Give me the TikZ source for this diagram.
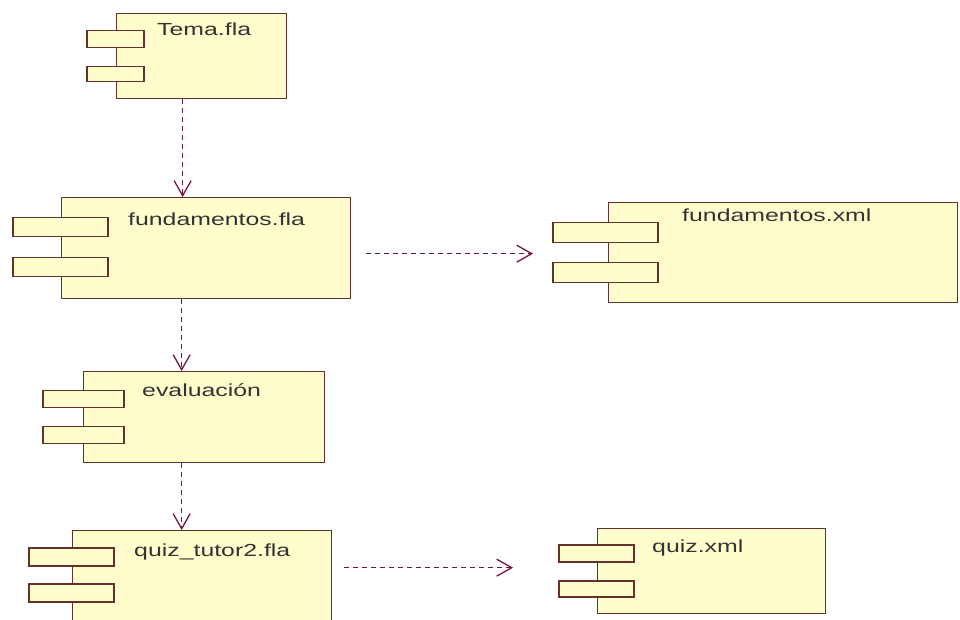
\documentclass[tikz,border=0pt]{standalone}
\usepackage{fontspec}
\newfontfamily\compfont[FakeStretch=1.42]{Liberation Sans}
\usetikzlibrary{arrows.meta}
\definecolor{compfill}{RGB}{255,253,204}
\definecolor{compline}{RGB}{104,48,44}
\definecolor{deparrow}{RGB}{118,20,66}

\begin{document}
\begin{tikzpicture}[x=1pt, y=-1pt,
  compbox/.style = {draw=compline, fill=compfill, line width=1.3pt, anchor=north west, inner sep=0pt},
  comptab/.style = {draw=compline, fill=compfill, line width=1.3pt, inner sep=0pt},
  compname/.style = {anchor=base west, inner sep=0pt, text=black!80, font=\compfont\fontsize{17.5}{21}\selectfont},
  dep/.style = {->, dash pattern=on 5pt off 4pt, draw=deparrow, line width=1.3pt},
  >={Straight Barb[length=15pt,width=17pt]}]
\useasboundingbox (0,0) rectangle (960,619);
\fill[white] (0,0) rectangle (960,619);
\clip (0,0) rectangle (960,619);

% components
\node[compbox, minimum width=170pt, minimum height=85pt] (tema) at (116,13) {};
\node[comptab, minimum width=57pt, minimum height=17pt] (tema1) at (115.5,39) {};
\node[comptab, minimum width=57pt, minimum height=15pt] (tema2) at (115.5,74) {};
\node[compname] (temaTxt) at (157,35) {Tema.fla};

\node[compbox, minimum width=289pt, minimum height=101pt] (fundfla) at (61,197) {};
\node[comptab, minimum width=95pt, minimum height=19pt] (fundfla1) at (60.5,227) {};
\node[comptab, minimum width=95pt, minimum height=19pt] (fundfla2) at (60.5,267) {};
\node[compname] (fundflaTxt) at (128,225) {fundamentos.fla};

\node[compbox, minimum width=349pt, minimum height=100pt] (fundxml) at (608,202) {};
\node[comptab, minimum width=105pt, minimum height=20pt] (fundxml1) at (605.5,232.5) {};
\node[comptab, minimum width=105pt, minimum height=20pt] (fundxml2) at (605.5,272.5) {};
\node[compname] (fundxmlTxt) at (682,221) {fundamentos.xml};

\node[compbox, minimum width=241pt, minimum height=91pt] (eval) at (83,371) {};
\node[comptab, minimum width=81pt, minimum height=17pt] (eval1) at (83.5,399) {};
\node[comptab, minimum width=81pt, minimum height=17pt] (eval2) at (83.5,435) {};
\node[compname] (evalTxt) at (142,396) {evaluación};

\node[compbox, minimum width=259pt, minimum height=95pt] (quiz) at (72,530) {};
\node[comptab, minimum width=85pt, minimum height=18pt] (quiz1) at (71.5,557) {};
\node[comptab, minimum width=85pt, minimum height=18pt] (quiz2) at (71.5,593) {};
\node[compname] (quizTxt) at (134,556) {quiz\_tutor2.fla};

\node[compbox, minimum width=228pt, minimum height=85pt] (quizxml) at (597,528) {};
\node[comptab, minimum width=75pt, minimum height=17pt] (quizxml1) at (596.5,553.5) {};
\node[comptab, minimum width=75pt, minimum height=16pt] (quizxml2) at (596.5,589) {};
\node[compname] (quizxmlTxt) at (652,552) {quiz.xml};

% dependencies
\draw[dep] ([xshift=-19pt]tema.south) -- ([xshift=-23.5pt]fundfla.north);
\draw[dep] ([xshift=-24.5pt]fundfla.south) -- ([xshift=-22.5pt]eval.north);
\draw[dep] ([xshift=-22.5pt]eval.south) -- ([xshift=-20.5pt]quiz.north);
\draw[dep] ([xshift=15pt,yshift=-5.5pt]fundfla.east) -- ([xshift=-75pt,yshift=-1pt]fundxml.west);
\draw[dep] ([xshift=12pt,yshift=10.5pt]quiz.east) -- ([xshift=-84pt,yshift=3.5pt]quizxml.west);
\end{tikzpicture}
\end{document}
